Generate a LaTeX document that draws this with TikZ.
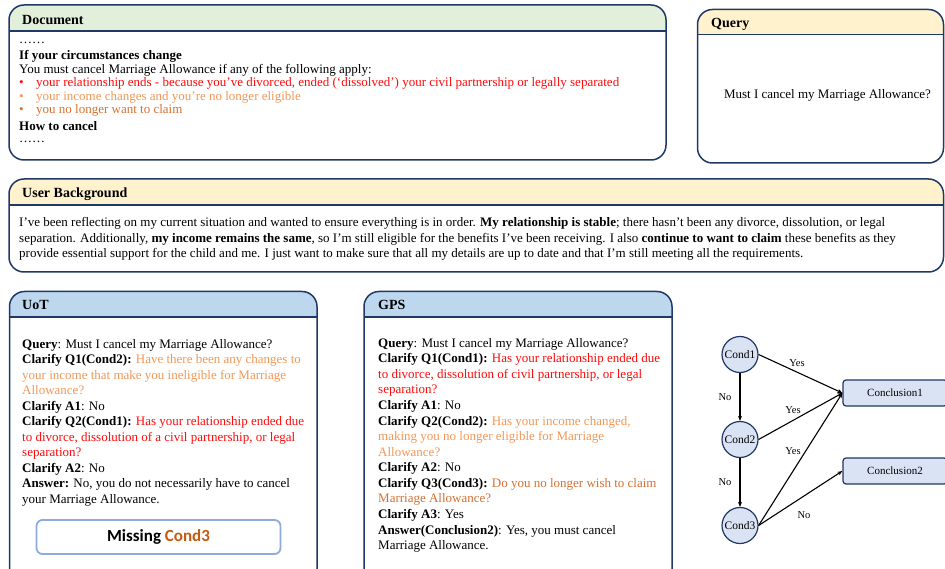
\documentclass[tikz,border=0pt]{standalone}
\usepackage{fontspec}
\setmainfont{Liberation Serif}
\newfontfamily\calib{Carlito}
\usetikzlibrary{arrows.meta}

\definecolor{navy}{RGB}{31,56,100}
\definecolor{hdrGreen}{RGB}{226,239,218}
\definecolor{hdrYellow}{RGB}{255,242,204}
\definecolor{hdrBlue}{RGB}{189,215,238}
\definecolor{nodeFill}{RGB}{218,227,243}
\definecolor{redT}{RGB}{255,10,10}
\definecolor{orangeL}{RGB}{243,150,85}
\definecolor{orangeD}{RGB}{213,112,48}
\definecolor{missBlue}{RGB}{143,170,220}
\definecolor{missOrange}{RGB}{197,90,17}

% a stack of left-aligned lines whose baseline is the first line's
\newcommand\txtlines[1]{\begin{tabular}[t]{@{}l@{}}#1\end{tabular}}

% rounded panel with a coloured title bar: x1,y1,x2,y2,title-bar bottom,fill
\newcommand\panelbox[6]{%
  \begin{scope}
    \clip[rounded corners=15] (#1,#2) rectangle (#3,#4);
    \fill[#6] (#1,#2) rectangle (#3,#5);
  \end{scope}
  \draw[panelline] (#1,#5) -- (#3,#5);
  \draw[panelline, rounded corners=15] (#1,#2) rectangle (#3,#4);
}

\tikzset{
  panelline/.style={draw=navy, line width=1.5pt},
  title/.style={anchor=base west, inner sep=0, font=\fontsize{14}{16}\selectfont\bfseries},
  body/.style={anchor=base west, inner sep=0},
  cond/.style={circle, draw=navy, line width=1.2pt, fill=nodeFill, minimum size=36, inner sep=0,
    font=\fontsize{11.5}{13}\selectfont},
  concl/.style={rectangle, rounded corners=3, draw=navy, line width=1.2pt, fill=nodeFill,
    minimum width=104, minimum height=26, inner sep=0, font=\fontsize{11}{13}\selectfont},
  arr/.style={-{Stealth[length=5pt,width=4pt]}, line width=1.1pt, black},
  edgelab/.style={inner sep=0, font=\fontsize{10.5}{12}\selectfont},
}

\begin{document}
\begin{tikzpicture}[x=1pt, y=-1pt]
\useasboundingbox (0,0) rectangle (945,569);

% ---- panels ----
\panelbox{9}{5}{666}{160}{31}{hdrGreen}
\panelbox{697.5}{9.5}{943.5}{163}{34.5}{hdrYellow}
\panelbox{9}{179}{943.5}{272}{205}{hdrYellow}
\panelbox{9.5}{291.5}{317}{600}{317}{hdrBlue}
\panelbox{364}{291.5}{672}{600}{317}{hdrBlue}

% ---- Document ----
\node[title] (docT) at (22,25) {Document};
\begin{scope}[every node/.style={body, font=\fontsize{13}{13.5}\selectfont}]
  \node (d0) at (19,44) {……};
  \node (d1) at (19,60) {\textbf{If your circumstances change}};
  \node (d2) at (19,73.5) {You must cancel Marriage Allowance if any of the following apply:};
  \node[text=redT] (b1) at (19,87) {•};
  \node[text=redT] (d3) at (36,87) {your relationship ends - because you’ve divorced, ended (‘dissolved’) your civil partnership or legally separated};
  \node[text=orangeL] (b2) at (19,100.5) {•};
  \node[text=orangeL] (d4) at (36,100.5) {your income changes and you’re no longer eligible};
  \node[text=orangeD] (b3) at (19,114) {•};
  \node[text=orangeD] (d5) at (36,114) {you no longer want to claim};
  \node (d6) at (19,131) {\textbf{How to cancel}};
  \node (d7) at (19,143) {……};
\end{scope}

% ---- Query ----
\node[title] (qT) at (711,28) {Query};
\node[inner sep=0, anchor=base, font=\fontsize{13}{15}\selectfont] (qq) at (827.5,99) {Must I cancel my Marriage Allowance?};

% ---- User Background ----
\node[title] (ubT) at (22,198) {User Background};
\node[body, font=\fontsize{13}{15.5}\selectfont] (ub) at (19,227) {\txtlines{%
I've been reflecting on my current situation and wanted to ensure everything is in order. \textbf{My relationship is stable}; there hasn't been any divorce, dissolution, or legal\\
separation. Additionally, \textbf{my income remains the same}, so I'm still eligible for the benefits I've been receiving. I also \textbf{continue to want to claim} these benefits as they\\
provide essential support for the child and me. I just want to make sure that all my details are up to date and that I’m still meeting all the requirements.}};

% ---- UoT ----
\node[title] (uotT) at (22,310) {UoT};
\node[body, font=\fontsize{13}{15.5}\selectfont] (uot) at (22,348.3) {\txtlines{%
\textbf{Query}: Must I cancel my Marriage Allowance?\\
\textbf{Clarify Q1(Cond2):} \color{orangeL}Have there been any changes to\\
\color{orangeL}your income that make you ineligible for Marriage\\
\color{orangeL}Allowance?\\
\textbf{Clarify A1}: No\\
\textbf{Clarify Q2(Cond1):} \color{redT}Has your relationship ended due\\
\color{redT}to divorce, dissolution of a civil partnership, or legal\\
\color{redT}separation?\\
\textbf{Clarify A2}: No\\
\textbf{Answer:} No, you do not necessarily have to cancel\\
your Marriage Allowance.}};
\node[draw=missBlue, line width=1.8pt, rounded corners=6, minimum width=244, minimum height=34,
  inner sep=0, font=\calib\fontsize{17}{19}\selectfont\bfseries] (miss) at (158.5,537)
  {Missing \textcolor{missOrange}{Cond3}};

% ---- GPS ----
\node[title] (gpsT) at (378,310) {GPS};
\node[body, font=\fontsize{13}{15.6}\selectfont] (gps) at (378,347) {\txtlines{%
\textbf{Query}: Must I cancel my Marriage Allowance?\\
\textbf{Clarify Q1(Cond1):} \color{redT}Has your relationship ended due\\
\color{redT}to divorce, dissolution of civil partnership, or legal\\
\color{redT}separation?\\
\textbf{Clarify A1}: No\\
\textbf{Clarify Q2(Cond2):} \color{orangeL}Has your income changed,\\
\color{orangeL}making you no longer eligible for Marriage\\
\color{orangeL}Allowance?\\
\textbf{Clarify A2}: No\\
\textbf{Clarify Q3(Cond3):} \color{orangeD}Do you no longer wish to claim\\
\color{orangeD}Marriage Allowance?\\
\textbf{Clarify A3}: Yes\\
\textbf{Answer(Conclusion2)}: Yes, you must cancel\\
Marriage Allowance.}};

% ---- condition graph ----
\node[cond] (c1) at (740,354.5) {Cond1};
\node[cond] (c2) at (740,439.5) {Cond2};
\node[cond] (c3) at (740,525.5) {Cond3};
\node[concl] (k1) at (895,393) {Conclusion1};
\node[concl] (k2) at (895,471) {Conclusion2};

\draw[arr] (c1) -- (c2);
\draw[arr] (c2) -- (c3);
\draw[arr] (c1.east) -- (k1.west);
\draw[arr] (c2.east) -- (k1.west);
\draw[arr] (c3.east) -- (k1.west);
\draw[arr] (c3.east) -- (k2.west);

\node[edgelab] (l1) at (797,363) {Yes};
\node[edgelab] (l2) at (725,397) {No};
\node[edgelab] (l3) at (793,410) {Yes};
\node[edgelab] (l4) at (793,451) {Yes};
\node[edgelab] (l5) at (725,482) {No};
\node[edgelab] (l6) at (804,515) {No};
\end{tikzpicture}
\end{document}
